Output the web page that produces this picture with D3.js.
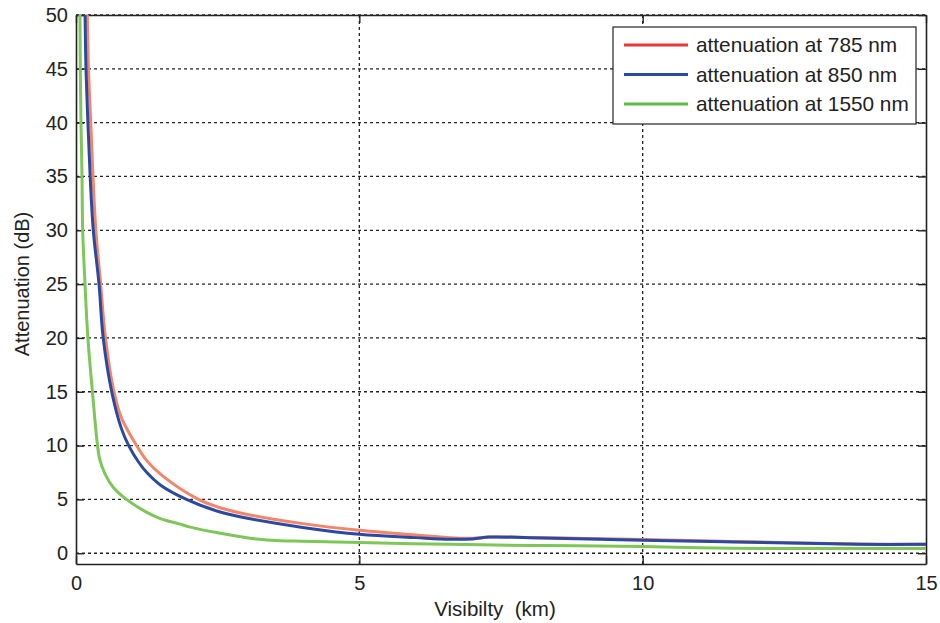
<!DOCTYPE html>
<html>
<head>
<meta charset="utf-8">
<script src="https://cdn.jsdelivr.net/npm/d3@7"></script>
<style>
  body { margin: 0; background: #fff; }
  svg { display: block; font-family: "Liberation Sans", Arial, sans-serif; }
</style>
</head>
<body>
<svg id="chart" width="940" height="623"></svg>
<script>
'use strict'

// visibility (km) / attenuation (dB)
const vis785 = [0.2, 0.22, 0.26, 0.30, 0.35, 0.435, 0.52, 0.67, 0.8, 1.07, 1.25, 1.5, 2.16, 2.5, 3.07, 4, 5, 6, 6.6, 7.0, 7.3, 8, 9, 10, 11.6, 13.8, 15]
const att785 = [50, 45, 40, 35, 30, 25, 20, 15, 12.6, 10, 8.6, 7.3, 5, 4.3, 3.55, 2.75, 2.13, 1.7, 1.45, 1.4, 1.5, 1.47, 1.37, 1.27, 1.1, 0.85, 0.83]

const vis850 = [0.16, 0.176, 0.21, 0.25, 0.305, 0.406, 0.48, 0.63, 0.8, 0.93, 1.1, 1.25, 1.5, 1.95, 2.5, 3.07, 4, 5, 6, 6.6, 7.0, 7.3, 8, 9.25, 10, 11.6, 13.8, 15]
const att850 = [50, 45, 40, 35, 30, 25, 20, 15, 11.6, 10, 8.5, 7.5, 6.3, 5, 3.9, 3.2, 2.4, 1.76, 1.45, 1.3, 1.33, 1.5, 1.45, 1.3, 1.2, 1.05, 0.83, 0.83]

const vis1550 = [0.07, 0.076, 0.088, 0.106, 0.118, 0.159, 0.21, 0.29, 0.38, 0.42, 0.51, 0.66, 0.89, 1.25, 1.5, 1.84, 2.0, 2.5, 3.07, 3.6, 4, 5, 6.6, 8, 9.25, 10, 11.6, 13, 15]
const att1550 = [50, 45, 40, 35, 30, 25, 20, 15, 10, 8.7, 7.4, 6.1, 5, 3.8, 3.2, 2.7, 2.45, 1.9, 1.4, 1.15, 1.12, 0.99, 0.83, 0.72, 0.68, 0.62, 0.46, 0.44, 0.44]

const xTicks = [0, 5, 10, 15]
const yTicks = [0, 5, 10, 15, 20, 25, 30, 35, 40, 45, 50]

const seriesNames = ['attenuation at 785 nm', 'attenuation at 850 nm', 'attenuation at 1550 nm']
const lineColors = ['#f4846a', '#2b4a9f', '#7dc657']
const legendColors = ['#e8353b', '#2b4a9f', '#5bb947']

const series = [
    vis785.map((v, i) => ({ v, a: att785[i] })),
    vis850.map((v, i) => ({ v, a: att850[i] })),
    vis1550.map((v, i) => ({ v, a: att1550[i] }))
]

const svg = d3.select('#chart')
const margin = { top: 15, right: 14, bottom: 59, left: 76 }
const width = 940 - margin.left - margin.right
const height = 623 - margin.top - margin.bottom

const x = d3.scaleLinear().domain([0, 15]).range([0, width])
const y = d3.scaleLinear().domain([-1, 50]).range([height, 0])

const g = svg.append('g').attr('transform', `translate(${margin.left}, ${margin.top})`)

g.append('clipPath').attr('id', 'clip')
    .append('rect').attr('width', width).attr('height', height)

// dashed grid
g.append('g')
    .selectAll('line')
    .data(yTicks)
    .join('line')
    .attr('x1', 0).attr('x2', width)
    .attr('y1', d => y(d)).attr('y2', d => y(d))
    .attr('stroke', '#222').attr('stroke-width', 1.3).attr('stroke-dasharray', '3,3')

g.append('g')
    .selectAll('line')
    .data(xTicks.slice(1, -1))
    .join('line')
    .attr('x1', d => x(d)).attr('x2', d => x(d))
    .attr('y1', 0).attr('y2', height)
    .attr('stroke', '#222').attr('stroke-width', 1.3).attr('stroke-dasharray', '3,3')

// axes with inward ticks
g.append('g')
    .attr('transform', `translate(0, ${height})`)
    .call(d3.axisBottom(x).tickValues(xTicks).tickSizeInner(-8).tickSizeOuter(0).tickPadding(12))
g.append('g')
    .call(d3.axisTop(x).tickValues(xTicks).tickSizeInner(-8).tickSizeOuter(0).tickFormat(''))
g.append('g')
    .call(d3.axisLeft(y).tickValues(yTicks).tickSizeInner(-8).tickSizeOuter(0).tickPadding(8))
g.append('g')
    .attr('transform', `translate(${width}, 0)`)
    .call(d3.axisRight(y).tickValues(yTicks).tickSizeInner(-8).tickSizeOuter(0).tickFormat(''))

g.selectAll('.domain').attr('stroke', '#222').attr('stroke-width', 1.6)
g.selectAll('.tick line').attr('stroke', '#222').attr('stroke-width', 1.4)
g.selectAll('.tick text').attr('font-size', '20px').attr('fill', '#222').attr('font-family', '"Liberation Sans", Arial, sans-serif')

// curves
const line = d3.line().x(d => x(d.v)).y(d => y(d.a)).curve(d3.curveCatmullRom.alpha(0.5))

g.append('g')
    .attr('clip-path', 'url(#clip)')
    .selectAll('path')
    .data(series)
    .join('path')
    .attr('d', line)
    .attr('fill', 'none')
    .attr('stroke', (d, i) => lineColors[i])
    .attr('stroke-width', 3)
    .attr('stroke-linejoin', 'round')

// axis titles
svg.append('text')
    .attr('x', 495).attr('y', 616)
    .attr('text-anchor', 'middle')
    .attr('font-size', '20.5px').attr('fill', '#222')
    .style('white-space', 'pre')
    .text('Visibilty  (km)')

svg.append('text')
    .attr('transform', 'translate(29, 284) rotate(-90)')
    .attr('text-anchor', 'middle')
    .attr('font-size', '20px').attr('fill', '#222')
    .text('Attenuation (dB)')

// legend
const legend = svg.append('g').attr('transform', 'translate(613, 27)')
legend.append('rect')
    .attr('width', 303).attr('height', 97)
    .attr('fill', '#fff').attr('stroke', '#222').attr('stroke-width', 1.2)

const item = legend.selectAll('g.item')
    .data(seriesNames)
    .join('g')
    .attr('class', 'item')
    .attr('transform', (d, i) => `translate(0, ${18 + i * 29.5})`)

item.append('line')
    .attr('x1', 11).attr('x2', 75)
    .attr('stroke', (d, i) => legendColors[i])
    .attr('stroke-width', 3)

item.append('text')
    .attr('x', 83).attr('dy', '0.35em')
    .attr('font-size', '20.8px').attr('fill', '#222')
    .text(d => d)
</script>
</body>
</html>
